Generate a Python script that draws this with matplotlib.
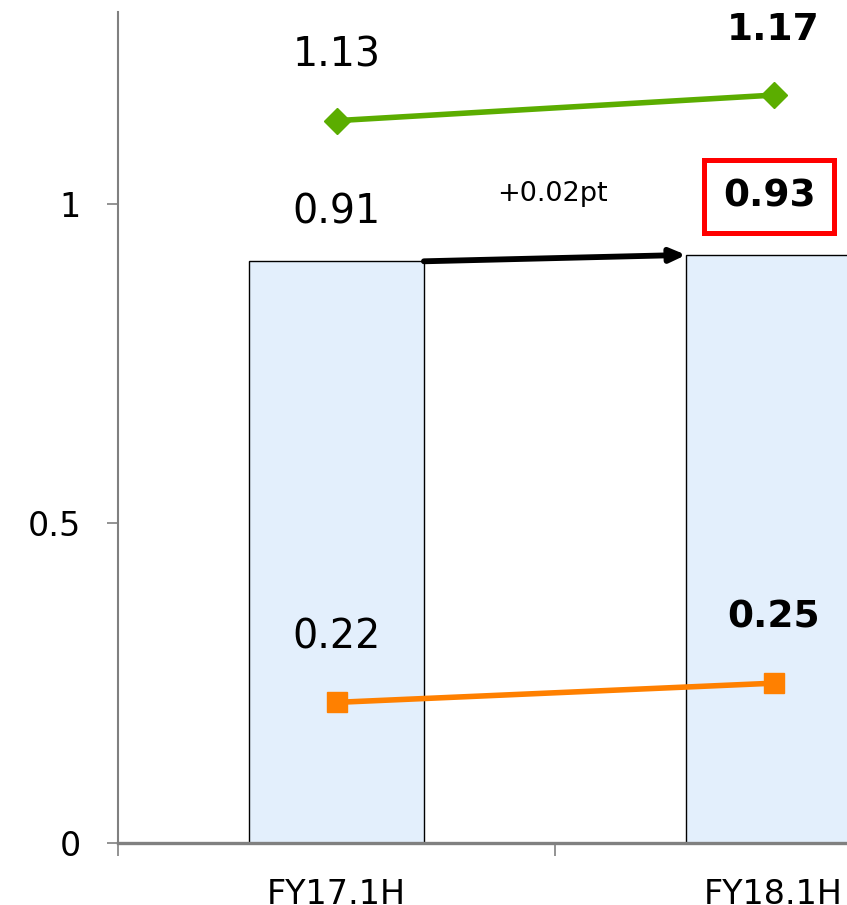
import matplotlib.pyplot as plt

# ── 数据 ──
categories = ["FY17.1H", "FY18.1H"]
bar_values = [0.91, 0.92]
bar_labels = ["0.91", "0.93"]
green_values = [1.13, 1.17]
green_labels = ["1.13", "1.17"]
orange_values = [0.22, 0.25]
orange_labels = ["0.22", "0.25"]
diff_label = "+0.02pt"
yticks = [0, 0.5, 1]
yticklabels = ["0", "0.5", "1"]

plt.rcParams["font.family"] = "DejaVu Sans"

fig = plt.figure(figsize=(8.47, 9.05), dpi=100)
ax = fig.add_axes([118 / 847, 62 / 905, 874 / 847, 831 / 905])

x = list(range(len(categories)))
ax.bar(x, bar_values, width=0.4, color="#E3EFFC", edgecolor="black", linewidth=1.0, zorder=2)
ax.plot(x, green_values, color="#5BAD00", linewidth=4.0, marker="D", markersize=13, zorder=3)
ax.plot(x, orange_values, color="#FF8000", linewidth=4.0, marker="s", markersize=15, zorder=3)

# 数据标签
for i in x:
    ax.annotate(green_labels[i], (i, green_values[i]), xytext=(0, 47), textcoords="offset points",
                ha="center", va="center", fontsize=28.5 if i == 0 else 27,
                fontweight="normal" if i == 0 else "bold")
    ax.annotate(orange_labels[i], (i, orange_values[i]), xytext=(0, 47), textcoords="offset points",
                ha="center", va="center", fontsize=28.5 if i == 0 else 27,
                fontweight="normal" if i == 0 else "bold")

ax.annotate(bar_labels[0], (0, bar_values[0]), xytext=(0, 35), textcoords="offset points",
            ha="center", va="center", fontsize=28.5)
ax.annotate(bar_labels[1], (1, bar_values[1]), xytext=(-3, 42), textcoords="offset points",
            ha="center", va="center", fontsize=27, fontweight="bold",
            bbox=dict(boxstyle="square,pad=0.5", facecolor="white", edgecolor="#FF0000", linewidth=3.6))

# 箭头
ax.annotate("", xy=(0.8, bar_values[1]), xytext=(0.2, bar_values[0]),
            arrowprops=dict(arrowstyle="-|>,head_length=0.9,head_width=0.4", color="black",
                            linewidth=4.2, shrinkA=0, shrinkB=0), zorder=4)
ax.annotate(diff_label, ((0.2 + 0.8) / 2, (bar_values[0] + bar_values[1]) / 2), xytext=(-2, 46),
            textcoords="offset points", ha="center", va="center", fontsize=19.5)

# 坐标轴
ax.set_xlim(-0.5, 1.5)
ax.set_ylim(0, 1.3)
ax.set_xticks(x)
ax.set_xticklabels(categories, fontsize=24)
ax.set_xticks([-0.5, 0.5, 1.5], minor=True)
ax.tick_params(axis="x", which="major", length=0, pad=25)
ax.tick_params(axis="x", which="minor", length=9, width=1.2, color="#808080")
ax.set_yticks(yticks)
ax.set_yticklabels(yticklabels, fontsize=24)
ax.tick_params(axis="y", length=8, width=1.2, color="#808080", pad=19)

for s in ["top", "right"]:
    ax.spines[s].set_visible(False)
ax.spines["left"].set_color("#808080")
ax.spines["left"].set_linewidth(1.5)
ax.spines["bottom"].set_color("#808080")
ax.spines["bottom"].set_linewidth(2.4)
ax.spines["bottom"].set_zorder(5)

fig.savefig("out.png", dpi=100)
